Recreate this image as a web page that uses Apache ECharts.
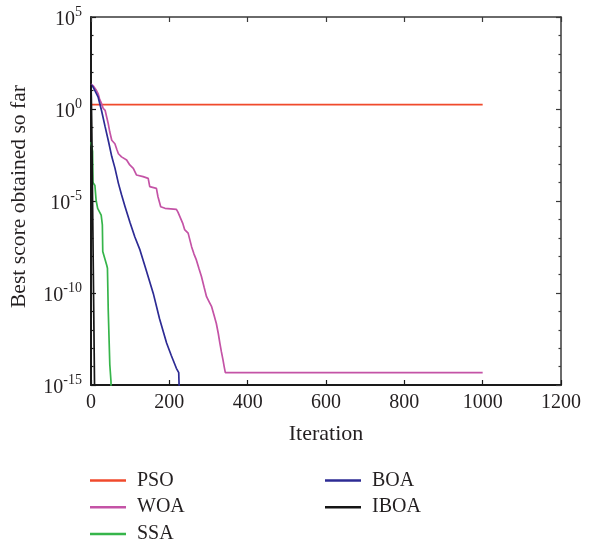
<!DOCTYPE html>
<html><head><meta charset="utf-8">
<script src="https://cdn.jsdelivr.net/npm/echarts@6/dist/echarts.min.js"></script>
<style>html,body{margin:0;padding:0;background:#fff}#c{width:590px;height:545px}</style>
</head><body><div id="c"></div>
<script>
// ---- data ----
const seriesNames = ['PSO', 'WOA', 'SSA', 'BOA', 'IBOA'];
const psoIter = [0, 1000];
const psoScore = [1.74, 1.74];
const woaIter = [0,2,6,10,14,18,22,27,31,36,40,44,48,53,61,66,70,78,91,99,108,116,133,146,150,167,171,178,189,218,222,227,234,239,248,257,263,269,276,282,289,295,302,308,314,320,325,329,333,337,340,343,1000];
const woaScore = [22,22,17.8,15.8,10,6.9,3.5,1.95,1.1,0.85,0.37,0.16,0.056,0.02,0.013,6.3e-3,3.7e-3,2.5e-3,1.7e-3,9.1e-4,6.0e-4,2.6e-4,2.1e-4,1.7e-4,6.0e-5,4.9e-5,1.7e-5,4.9e-6,4.0e-6,3.5e-6,2.5e-6,2.2e-6,6.3e-7,2.8e-7,1.8e-7,3.2e-8,1.3e-8,6.3e-9,2.0e-9,7.9e-10,2.0e-10,6.3e-11,3.2e-11,1.8e-11,6.3e-12,2.2e-12,6.3e-13,1.9e-13,6.3e-14,2.3e-14,1.0e-14,4.7e-15,4.7e-15];
const ssaIter = [0,4,5,10,13,17,26,29,30,40,42,44,48,51,53];
const ssaScore = [0.016,5e-3,1e-4,7e-5,1.1e-5,4e-6,1.7e-6,5e-7,1.8e-8,3.3e-9,2.2e-9,1.2e-11,1.3e-14,1.6e-15,1e-18];
const boaIter = [0,5,10,18,27,36,45,53,61,70,78,87,100,112,125,140,159,175,193,205,218,224,228,229];
const boaScore = [21,16,10,4.6,0.8,0.11,0.016,2.6e-3,6.3e-4,9.1e-5,2.2e-5,4.9e-6,6.3e-7,1.1e-7,2.2e-8,2.0e-9,9.5e-11,4.0e-12,1.9e-13,4.0e-14,8.1e-15,4.7e-15,4.7e-15,1e-18];
const iboaIter = [0,1,2,3,4,5,6,7,8,9,10];
const iboaScore = [21,3,0.1,1e-3,1e-5,1e-7,1e-9,1e-11,1e-13,1e-15,1e-18];
const xTickLabels = [0, 200, 400, 600, 800, 1000, 1200];
const yTickExponents = [-15, -10, -5, 0, 5];

// ---- styling ----
const FONT = "'Liberation Serif', 'Times New Roman', serif";
const TXT = '#231f20';
const colors = ['#f04a2c', '#c453a6', '#36b54a', '#2d2b94', '#151515'];
const iters = [psoIter, woaIter, ssaIter, boaIter, iboaIter];
const scores = [psoScore, woaScore, ssaScore, boaScore, iboaScore];

const xMin = xTickLabels[0], xMax = xTickLabels[xTickLabels.length - 1];
const xStep = xTickLabels[1] - xTickLabels[0];
const eMin = yTickExponents[0], eMax = yTickExponents[yTickExponents.length - 1];
const eStep = yTickExponents[1] - yTickExponents[0];

const series = seriesNames.map((n, i) => ({
  name: n, type: 'line', xAxisIndex: 0, yAxisIndex: 0,
  symbol: 'none', showSymbol: false, clip: true, animation: false,
  lineStyle: { color: colors[i], width: 1.7 },
  itemStyle: { color: colors[i] },
  data: iters[i].map((x, k) => [x, scores[i][k]]),
  z: 3 + i
}));

const legendCommon = {
  orient: 'vertical', icon: 'rect', itemWidth: 36, itemHeight: 2.5, itemGap: 6.7,
  padding: 0, height: 80,
  textStyle: { fontFamily: FONT, fontSize: 20, color: TXT, lineHeight: 20, padding: [0, 0, 0, 6] },
  selectedMode: false
};

const option = {
  animation: false,
  backgroundColor: '#fff',
  grid: { left: 91, right: 29, top: 17, bottom: 160, containLabel: false },
  legend: [
    Object.assign({ data: seriesNames.slice(0, 3), left: 90, top: 470.5 }, legendCommon),
    Object.assign({ data: seriesNames.slice(3), left: 325, top: 470.5 }, legendCommon)
  ],
  xAxis: [
    {
      type: 'value', position: 'bottom', min: xMin, max: xMax, interval: xStep,
      name: 'Iteration', nameLocation: 'middle', nameGap: 38,
      nameTextStyle: { fontFamily: FONT, fontSize: 22, color: TXT },
      axisLine: { show: true, onZero: false, lineStyle: { color: '#1a1a1a', width: 2 } },
      axisTick: { show: true, inside: true, length: 5, lineStyle: { color: '#1a1a1a', width: 1.2 } },
      axisLabel: { fontFamily: FONT, fontSize: 20, color: TXT, margin: 8, formatter: v => String(v) },
      splitLine: { show: false }
    },
    {
      type: 'value', position: 'top', min: xMin, max: xMax, interval: xStep,
      axisLine: { show: true, onZero: false, lineStyle: { color: '#3a3a3a', width: 1.5 } },
      axisTick: { show: true, inside: true, length: 5, lineStyle: { color: '#3a3a3a', width: 1.2 } },
      axisLabel: { show: false }, splitLine: { show: false }
    }
  ],
  yAxis: [
    {
      type: 'log', logBase: 10, min: Math.pow(10, eMin), max: Math.pow(10, eMax), position: 'left',
      axisLine: { show: true, onZero: false, lineStyle: { color: '#1a1a1a', width: 2 } },
      axisTick: { show: false }, axisLabel: { show: false }, splitLine: { show: false }
    },
    {
      type: 'value', min: eMin, max: eMax, interval: eStep, position: 'left',
      name: 'Best score obtained so far', nameLocation: 'middle', nameGap: 61, nameRotate: 90,
      nameTextStyle: { fontFamily: FONT, fontSize: 21.6, color: TXT, padding: [0, 0, 0, 9] },
      axisLine: { show: false },
      axisTick: { show: true, inside: true, length: 5, lineStyle: { color: '#1a1a1a', width: 1.2 } },
      minorTick: { show: true, splitNumber: eStep, length: 2.5, lineStyle: { color: '#1a1a1a', width: 1.2 } },
      axisLabel: {
        margin: 9, padding: [5, 0, 0, 0],
        formatter: v => '{b|10}{s|' + v + '}',
        rich: {
          b: { fontFamily: FONT, fontSize: 20, color: TXT, lineHeight: 28 },
          s: { fontFamily: FONT, fontSize: 14, color: TXT, lineHeight: 14, verticalAlign: 'top' }
        }
      },
      splitLine: { show: false }
    },
    {
      type: 'value', min: eMin, max: eMax, interval: eStep, position: 'right',
      axisLine: { show: true, onZero: false, lineStyle: { color: '#3a3a3a', width: 1.5 } },
      axisTick: { show: true, inside: true, length: 5, lineStyle: { color: '#3a3a3a', width: 1.2 } },
      minorTick: { show: true, splitNumber: eStep, length: 2.5, lineStyle: { color: '#3a3a3a', width: 1.2 } },
      axisLabel: { show: false }, splitLine: { show: false }
    }
  ],
  series: series
};

const chart = echarts.init(document.getElementById('c'), null, { renderer: 'canvas' });
chart.setOption(option);
</script>
</body></html>
